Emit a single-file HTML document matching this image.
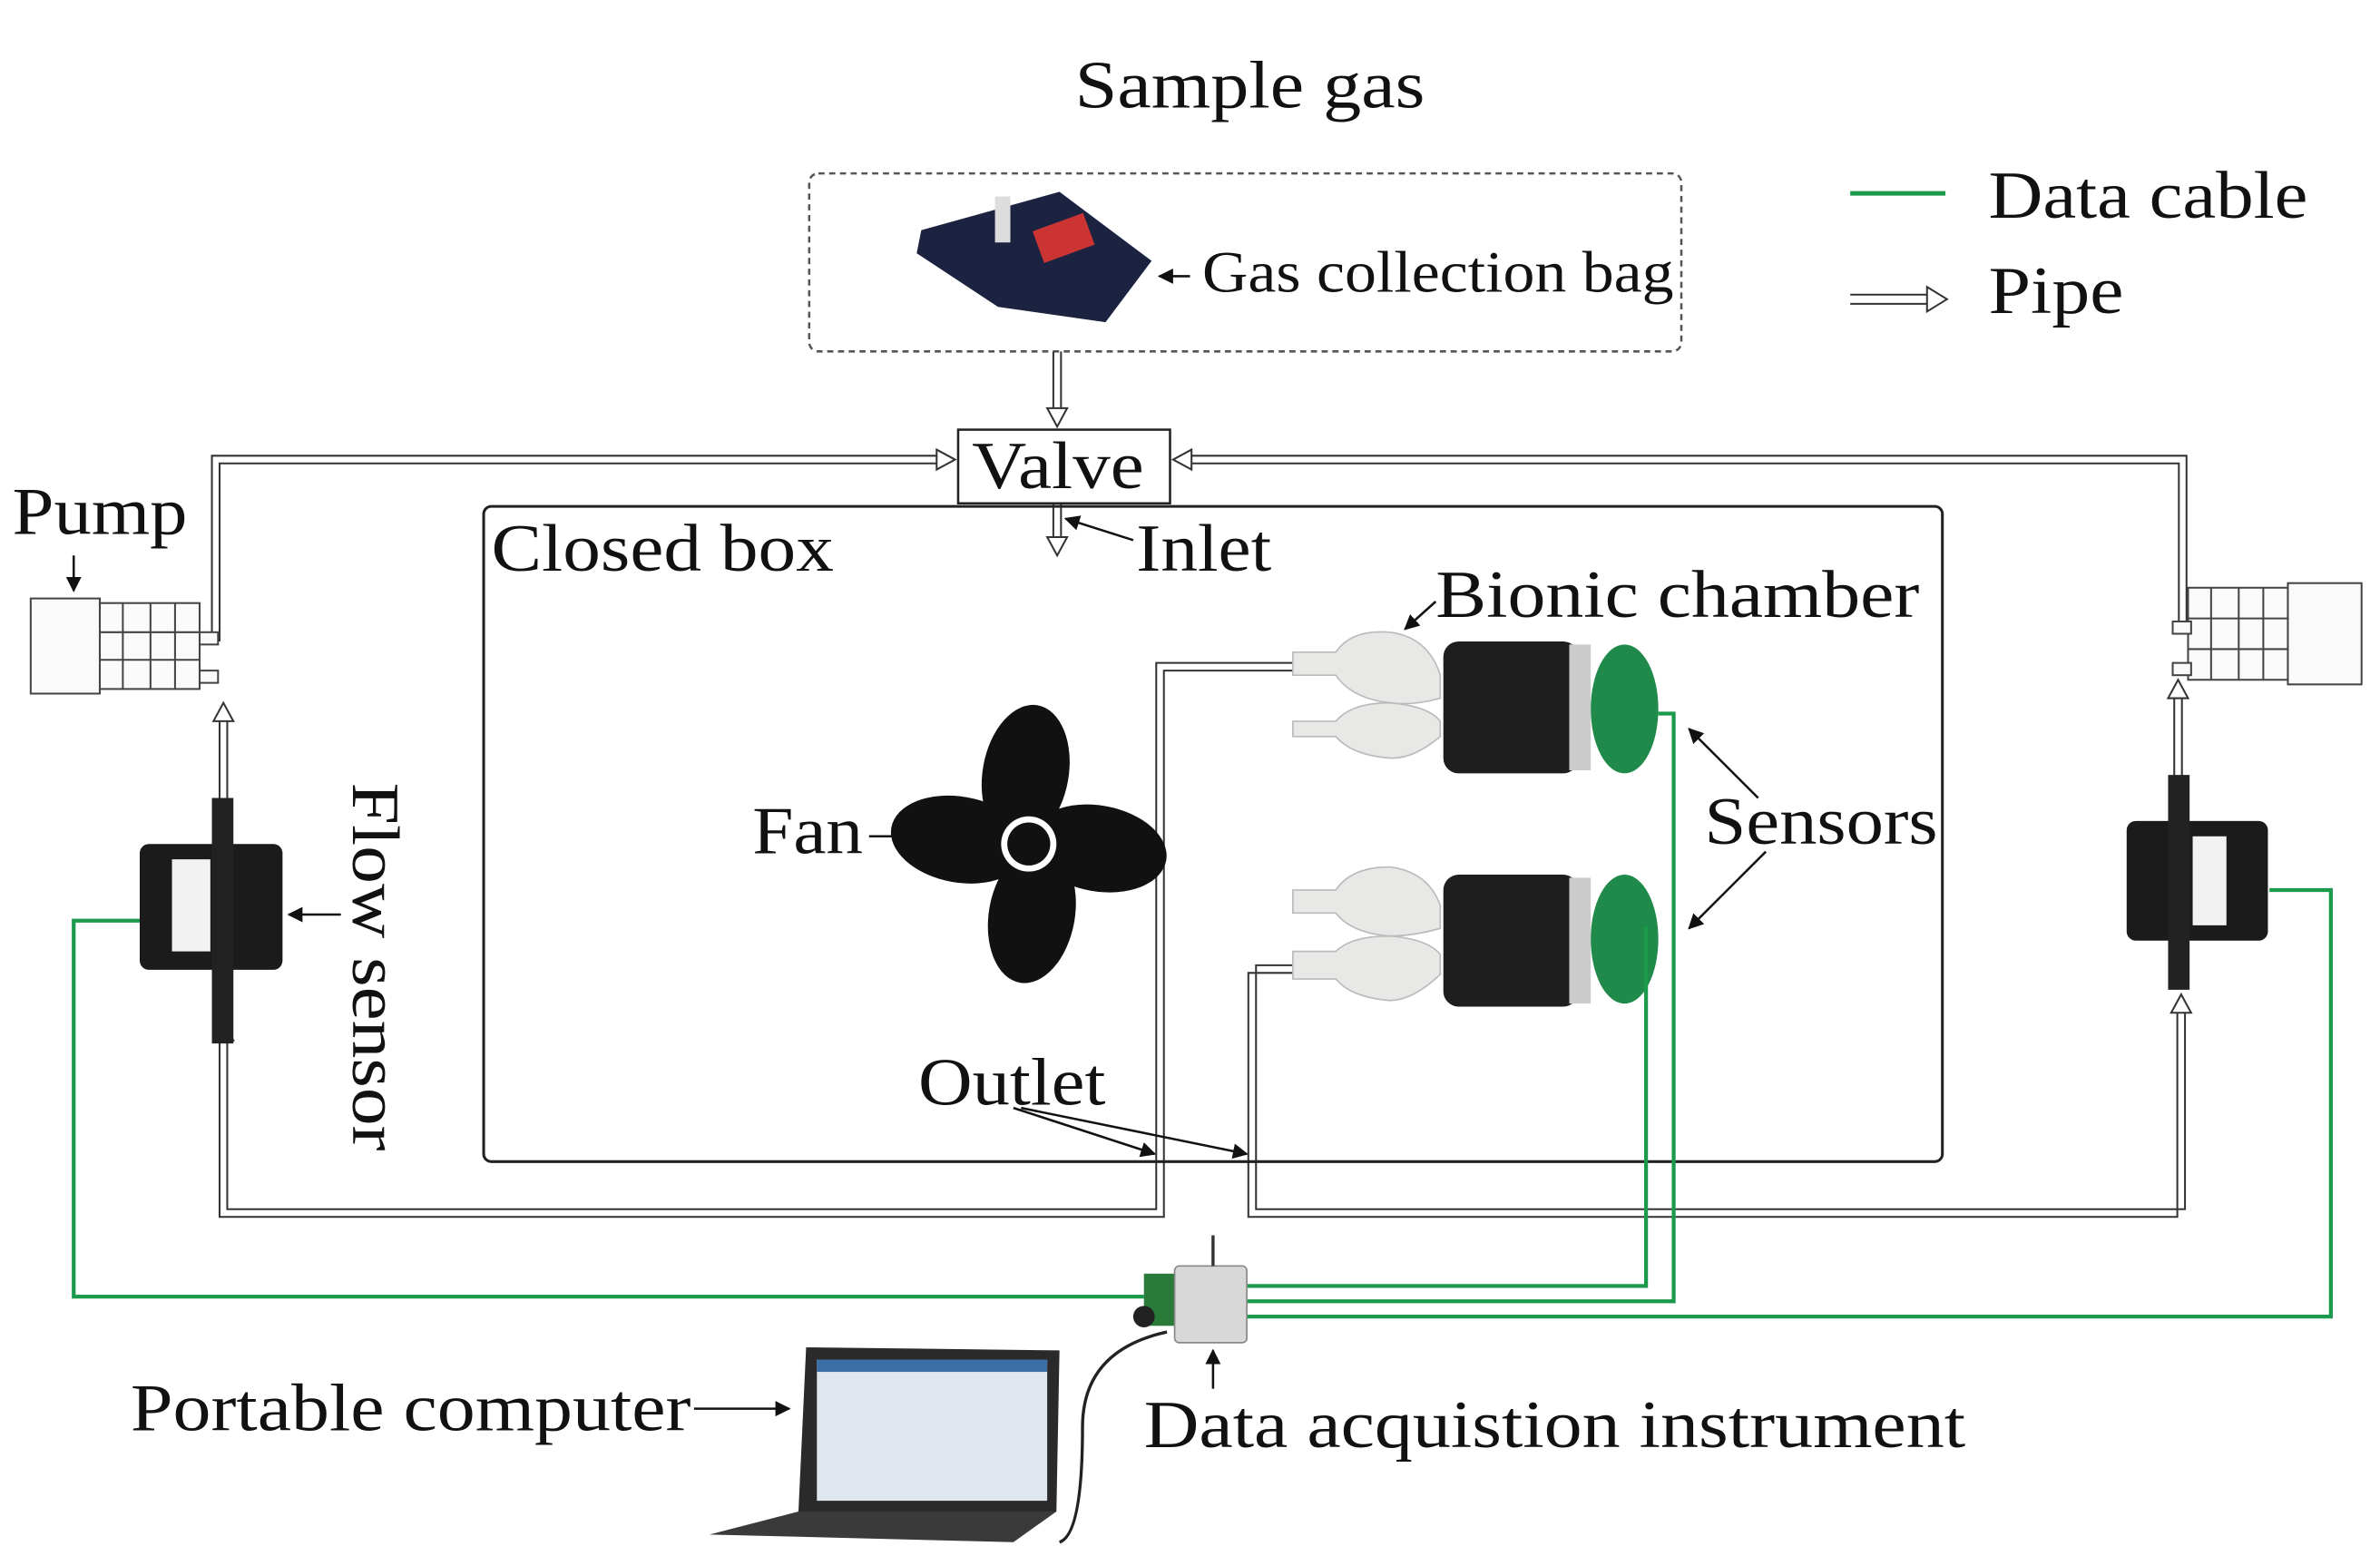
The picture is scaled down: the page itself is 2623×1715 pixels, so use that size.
<!DOCTYPE html>
<html><head><meta charset="utf-8"><style>
html,body{margin:0;padding:0;background:#fff;}
svg{display:block}
text{font-family:"Liberation Serif",serif;fill:#111;}
</style></head><body>
<svg width="2623" height="1715" viewBox="0 0 1550 1014" preserveAspectRatio="none" xmlns="http://www.w3.org/2000/svg">
<defs>
<marker id="ah" markerWidth="10" markerHeight="10" refX="9" refY="5" orient="auto" markerUnits="userSpaceOnUse"><path d="M0,0 L10,5 L0,10 z" fill="#111"/></marker>
</defs>
<rect width="1550" height="1014" fill="#fff"/>
<text x="700" y="70" font-size="44" textLength="228" lengthAdjust="spacingAndGlyphs">Sample gas</text>
<rect x="527" y="113" width="568" height="116" rx="6" fill="none" stroke="#555" stroke-dasharray="4,3" stroke-width="1.5"/>
<path d="M600,150 L690,125 L750,170 L720,210 L650,200 L597,165 z" fill="#1c2340"/>
<rect x="675" y="145" width="35" height="22" fill="#c33" transform="rotate(-20 690 155)"/>
<rect x="648" y="128" width="10" height="30" fill="#ddd"/>
<line x1="775" y1="180" x2="755" y2="180" stroke="#111" stroke-width="1.5" marker-end="url(#ah)"/>
<text x="783" y="190" font-size="38" textLength="307" lengthAdjust="spacingAndGlyphs">Gas collection bag</text>
<line x1="1205" y1="126" x2="1267" y2="126" stroke="#1a9a4a" stroke-width="3"/>
<text x="1295" y="142" font-size="44" textLength="208" lengthAdjust="spacingAndGlyphs">Data cable</text>
<g fill="none" stroke="#333" stroke-width="1.2"><line x1="1205" y1="192" x2="1255" y2="192"/><line x1="1205" y1="198" x2="1255" y2="198"/><path d="M1255,187 L1268,195 L1255,203 z" fill="#fff"/></g>
<text x="1295" y="204" font-size="44" textLength="88" lengthAdjust="spacingAndGlyphs">Pipe</text>
<g fill="none" stroke="#333" stroke-width="1.2">
<path d="M686,229 V266 M691,229 V266"/><path d="M682,266 L688.5,278 L695,266 z" fill="#fff"/>
<path d="M610,297 H138 V418 M610,302 H143 V418"/><path d="M610,293 L622,299.5 L610,306 z" fill="#fff"/>
<path d="M776,297 H1424 V410 M776,302 H1419 V410"/><path d="M776,293 L764,299.5 L776,306 z" fill="#fff"/>
<path d="M686,328 V350 M691,328 V350"/><path d="M682,350 L688.5,362 L695,350 z" fill="#fff"/>
<path d="M143,520 V470 M148,520 V470"/><path d="M139,470 L145.5,458 L152,470 z" fill="#fff"/>
<path d="M143,678 V793 H758 V437 H842 M148,678 V788 H753 V432 H842"/><path d="M139,678 L145.5,665 L152,678 z" fill="#fff"/>
<path d="M1418,660 V793 H813 V634 H842 M1423,660 V788 H818 V629 H842"/><path d="M1414,660 L1420.5,648 L1427,660 z" fill="#fff"/>
<path d="M1416,530 V455 M1421,530 V455"/><path d="M1412,455 L1418.5,443 L1425,455 z" fill="#fff"/>
</g>
<rect x="624" y="280" width="138" height="48" fill="#fff" stroke="#222" stroke-width="1.5"/>
<text x="633" y="318" font-size="44" textLength="112" lengthAdjust="spacingAndGlyphs">Valve</text>
<rect x="315" y="330" width="950" height="427" rx="5" fill="none" stroke="#222" stroke-width="1.8"/>
<text x="320" y="372" font-size="44" textLength="223" lengthAdjust="spacingAndGlyphs">Closed box</text>
<line x1="738" y1="352" x2="694" y2="338" stroke="#111" stroke-width="1.5" marker-end="url(#ah)"/>
<text x="740" y="372" font-size="44" textLength="88" lengthAdjust="spacingAndGlyphs">Inlet</text>
<text x="8" y="348" font-size="44" textLength="114" lengthAdjust="spacingAndGlyphs">Pump</text>
<line x1="48" y1="362" x2="48" y2="385" stroke="#111" stroke-width="1.5" marker-end="url(#ah)"/>
<g stroke="#444" stroke-width="1.2" fill="#fafafa">
<rect x="20" y="390" width="45" height="62"/><rect x="65" y="393" width="65" height="56"/>
<path d="M80,393 V449 M98,393 V449 M114,393 V449 M65,412 H130 M65,430 H130" fill="none"/>
<rect x="130" y="412" width="12" height="8"/><rect x="130" y="437" width="12" height="8"/>
<rect x="1425" y="383" width="65" height="60"/><rect x="1490" y="380" width="48" height="66"/>
<path d="M1440,383 V443 M1458,383 V443 M1474,383 V443 M1425,403 H1490 M1425,423 H1490" fill="none"/>
<rect x="1415" y="405" width="12" height="8"/><rect x="1415" y="432" width="12" height="8"/>
</g>
<rect x="91" y="550" width="93" height="82" rx="6" fill="#1b1b1b"/>
<rect x="138" y="520" width="14" height="160" fill="#222"/>
<rect x="112" y="560" width="25" height="60" fill="#f2f2f2"/>
<rect x="1385" y="535" width="92" height="78" rx="6" fill="#1b1b1b"/>
<rect x="1412" y="505" width="14" height="140" fill="#222"/>
<rect x="1428" y="545" width="22" height="58" fill="#f2f2f2"/>
<line x1="222" y1="596" x2="188" y2="596" stroke="#111" stroke-width="1.5" marker-end="url(#ah)"/>
<text x="0" y="0" font-size="44" transform="translate(230,510) rotate(90)" textLength="240" lengthAdjust="spacingAndGlyphs">Flow sensor</text>
<g fill="#111">
<ellipse cx="660" cy="505" rx="28" ry="45" transform="rotate(10 670 550)"/>
<ellipse cx="715" cy="545" rx="45" ry="28" transform="rotate(10 670 550)"/>
<ellipse cx="680" cy="595" rx="28" ry="45" transform="rotate(10 670 550)"/>
<ellipse cx="625" cy="555" rx="45" ry="28" transform="rotate(10 670 550)"/>
<circle cx="670" cy="550" r="27"/>
</g>
<circle cx="670" cy="550" r="18" fill="#fff"/><circle cx="670" cy="550" r="14" fill="#111"/>
<text x="490" y="556" font-size="44" textLength="72" lengthAdjust="spacingAndGlyphs">Fan</text>
<line x1="566" y1="545" x2="594" y2="545" stroke="#111" stroke-width="1.5" marker-end="url(#ah)"/>
<g>
<path d="M842,425 H870 Q880,410 905,412 Q930,415 938,440 V455 Q920,460 905,458 Q880,455 870,440 H842z" fill="#e8e8e6" stroke="#bbb"/>
<path d="M842,470 H870 Q880,458 905,458 Q930,460 938,470 V480 Q920,495 905,494 Q880,492 870,480 H842z" fill="#e8e8e6" stroke="#bbb"/>
<rect x="940" y="418" width="88" height="86" rx="10" fill="#1e1e1e"/>
<rect x="1022" y="420" width="14" height="82" fill="#ccc"/>
<ellipse cx="1058" cy="462" rx="22" ry="42" fill="#1f8a4a"/>
<path d="M842,580 H870 Q880,565 905,565 Q930,568 938,590 V605 Q920,610 905,610 Q880,608 870,595 H842z" fill="#e8e8e6" stroke="#bbb"/>
<path d="M842,620 H870 Q880,610 905,610 Q930,612 938,622 V635 Q920,652 905,652 Q880,650 870,638 H842z" fill="#e8e8e6" stroke="#bbb"/>
<rect x="940" y="570" width="88" height="86" rx="10" fill="#1e1e1e"/>
<rect x="1022" y="572" width="14" height="82" fill="#ccc"/>
<ellipse cx="1058" cy="612" rx="22" ry="42" fill="#1f8a4a"/>
</g>
<text x="935" y="402" font-size="44" textLength="315" lengthAdjust="spacingAndGlyphs">Bionic chamber</text>
<line x1="935" y1="392" x2="915" y2="410" stroke="#111" stroke-width="1.5" marker-end="url(#ah)"/>
<text x="1110" y="550" font-size="44" textLength="152" lengthAdjust="spacingAndGlyphs">Sensors</text>
<line x1="1145" y1="520" x2="1100" y2="475" stroke="#111" stroke-width="1.5" marker-end="url(#ah)"/>
<line x1="1150" y1="555" x2="1100" y2="605" stroke="#111" stroke-width="1.5" marker-end="url(#ah)"/>
<text x="598" y="720" font-size="44" textLength="122" lengthAdjust="spacingAndGlyphs">Outlet</text>
<line x1="660" y1="722" x2="752" y2="752" stroke="#111" stroke-width="1.5" marker-end="url(#ah)"/>
<line x1="665" y1="722" x2="812" y2="752" stroke="#111" stroke-width="1.5" marker-end="url(#ah)"/>
<g fill="none" stroke="#1a9a4a" stroke-width="2.5">
<path d="M91,600 H48 V845 H745"/>
<path d="M1080,465 H1090 V848 H810"/>
<path d="M1070,605 H1072 V838 H810"/>
<path d="M1478,580 H1518 V858 H810"/>
</g>
<rect x="745" y="830" width="22" height="34" fill="#2a7a3a"/>
<circle cx="745" cy="858" r="7" fill="#222"/>
<rect x="765" y="825" width="47" height="50" rx="3" fill="#d8d8d8" stroke="#888"/>
<path d="M790,825 V805" stroke="#333" stroke-width="2"/>
<line x1="790" y1="905" x2="790" y2="880" stroke="#111" stroke-width="1.5" marker-end="url(#ah)"/>
<text x="745" y="943" font-size="44" textLength="535" lengthAdjust="spacingAndGlyphs">Data acquistion instrument</text>
<path d="M525,878 L690,880 L688,985 L520,985 z" fill="#2a2a2a"/>
<rect x="532" y="886" width="150" height="92" fill="#dfe6ee"/>
<rect x="532" y="886" width="150" height="8" fill="#3a6ea5"/>
<path d="M520,985 L688,985 L660,1005 L462,1000 z" fill="#3a3a3a"/>
<path d="M760,868 Q705,880 705,930 Q705,1000 690,1005" fill="none" stroke="#222" stroke-width="2"/>
<text x="85" y="932" font-size="44" textLength="365" lengthAdjust="spacingAndGlyphs">Portable computer</text>
<line x1="452" y1="918" x2="514" y2="918" stroke="#111" stroke-width="1.5" marker-end="url(#ah)"/>
</svg>
</body></html>
